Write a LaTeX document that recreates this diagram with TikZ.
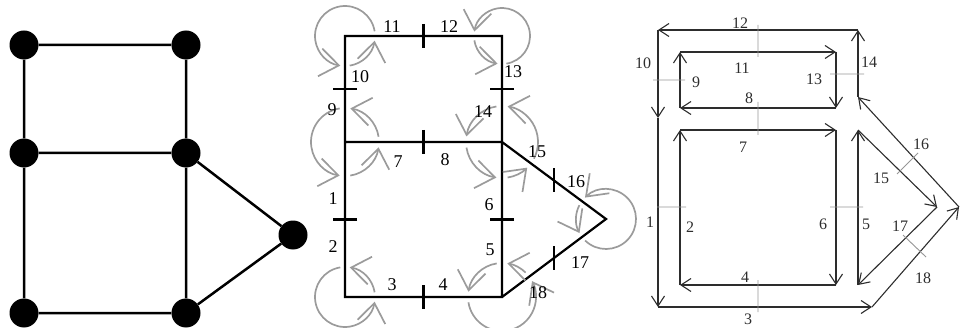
\documentclass[tikz,border=0pt]{standalone}
\usepackage{fontspec}
\setmainfont{Liberation Serif}
\usetikzlibrary{arrows.meta,calc}
\definecolor{rotGray}{RGB}{155,155,155}
\definecolor{faceDark}{RGB}{45,45,45}
\definecolor{tickGray}{RGB}{150,150,150}

\begin{document}
\begin{tikzpicture}[x=1pt,y=1pt,
  vert/.style={circle, fill=black, inner sep=0pt, minimum size=29pt},
  gedge/.style={line width=2.5pt},
  redge/.style={line width=2.2pt},
  rot/.style={rotGray, line width=1.7pt, -{Straight Barb[length=19pt,width=28pt]}},
  hlab/.style={font=\fontsize{18}{18}\selectfont, inner sep=0pt},
  flab/.style={font=\fontsize{16}{16}\selectfont, inner sep=0pt, faceDark},
  fedge/.style={faceDark, line width=1.1pt, -{Straight Barb[length=10pt,width=13pt]}},
  ftick/.style={tickGray, line width=0.9pt}
]
\useasboundingbox (0,0) rectangle (961,327);

% graph
\node[vert] (a) at (24,282) {};
\node[vert] (b) at (186,282) {};
\node[vert] (c) at (24,174) {};
\node[vert] (d) at (186,174) {};
\node[vert] (e) at (24,14) {};
\node[vert] (f) at (186,14) {};
\node[vert] (g) at (293,92) {};
\draw[gedge] (a) -- (b) (a) -- (c) (b) -- (d) (c) -- (d) (c) -- (e)
  (d) -- (f) (e) -- (f) (d) -- (g) (f) -- (g);

% rotation system
\coordinate (p1) at (345,291);
\coordinate (p2) at (502,291);
\coordinate (p3) at (345,185);
\coordinate (p4) at (502,185);
\coordinate (p5) at (345,30);
\coordinate (p6) at (502,30);
\coordinate (p7) at (606,108);
\draw[redge] (p3) -- (p1) -- (p2) -- (p4) -- (p3) -- (p5) -- (p6) -- (p4) -- (p7) -- (p6);
\foreach \u/\v in {p1/p2,p3/p4,p5/p6,p4/p7,p6/p7}
  \draw[redge] ($(\u)!.5!(\v)$) +(0,12) -- +(0,-12);
\foreach \u/\v in {p1/p3,p3/p5,p2/p4,p4/p6}
  \draw[redge] ($(\u)!.5!(\v)$) +(12,0) -- +(-12,0);
\foreach \v/\a/\b/\r in {p1/0/270/30, p1/270/360/30, p2/180/270/28, p2/270/540/28,
    p3/0/90/34, p3/90/270/34, p3/270/360/34,
    p4/-36.5/90/36, p4/90/180/36, p4/180/270/36, p4/270/323.5/36,
    p5/0/90/30, p5/90/360/30, p6/36.9/90/34, p6/90/180/34, p6/180/396.9/34,
    p7/143.5/216.9/30, p7/216.9/503.5/30}
  \draw[rot] (\v) ++({\a+9}:\r) arc[start angle={\a+9}, end angle={\b-9}, radius=\r];
\foreach \t/\x/\y in {11/392/300, 12/449/300, 10/360/250, 9/332/217, 7/398/165,
    8/445/167, 1/333/128, 2/333/80, 3/392/42, 4/443/42, 14/483/215, 15/537/175,
    16/576/145, 6/489/122, 5/490/77, 17/580/64, 18/538/34, 13/513/255}
  \node[hlab] (h\t) at (\x,\y) {\t};

% faces
\coordinate (o1) at (858,297);
\coordinate (o2) at (658,297);
\coordinate (o3) at (658,209);
\coordinate (o4) at (658,20);
\coordinate (o5) at (872,20);
\coordinate (o6) at (959,120);
\coordinate (o7) at (858,230);
\coordinate (u1) at (680,275);
\coordinate (u2) at (836,275);
\coordinate (u3) at (836,219);
\coordinate (u4) at (680,219);
\coordinate (l1) at (680,197);
\coordinate (l2) at (836,197);
\coordinate (l3) at (836,42);
\coordinate (l4) at (680,42);
\coordinate (t1) at (858,197);
\coordinate (t2) at (937,120);
\coordinate (t3) at (858,42);
\foreach \u/\v in {o1/o2, o2/o3, o3/o4, o4/o5, o5/o6, o6/o7, o7/o1,
    u1/u2, u2/u3, u3/u4, u4/u1, l1/l2, l2/l3, l3/l4, l4/l1,
    t3/t1, t1/t2, t2/t3}
  \draw[fedge] (\u) -- (\v);
\draw[ftick] (758,270) -- (758,302) (758,192) -- (758,225) (758,15) -- (758,47)
  (653,247) -- (685,247) (657,120) -- (686,120) (830,253) -- (864,253)
  (830,120) -- (863,120) (897,153) -- (918,174) (903,92) -- (926,70);
\foreach \t/\x/\y in {12/740/304, 11/742/259, 10/643/264, 9/696/245, 8/749/229,
    7/743/180, 1/650/105, 2/690/100, 4/745/50, 3/748/8, 13/814/248, 14/869/265,
    16/921/183, 15/881/149, 6/823/103, 5/866/103, 17/900/101, 18/923/49}
  \node[flab] (f\t) at (\x,\y) {\t};
\end{tikzpicture}
\end{document}
